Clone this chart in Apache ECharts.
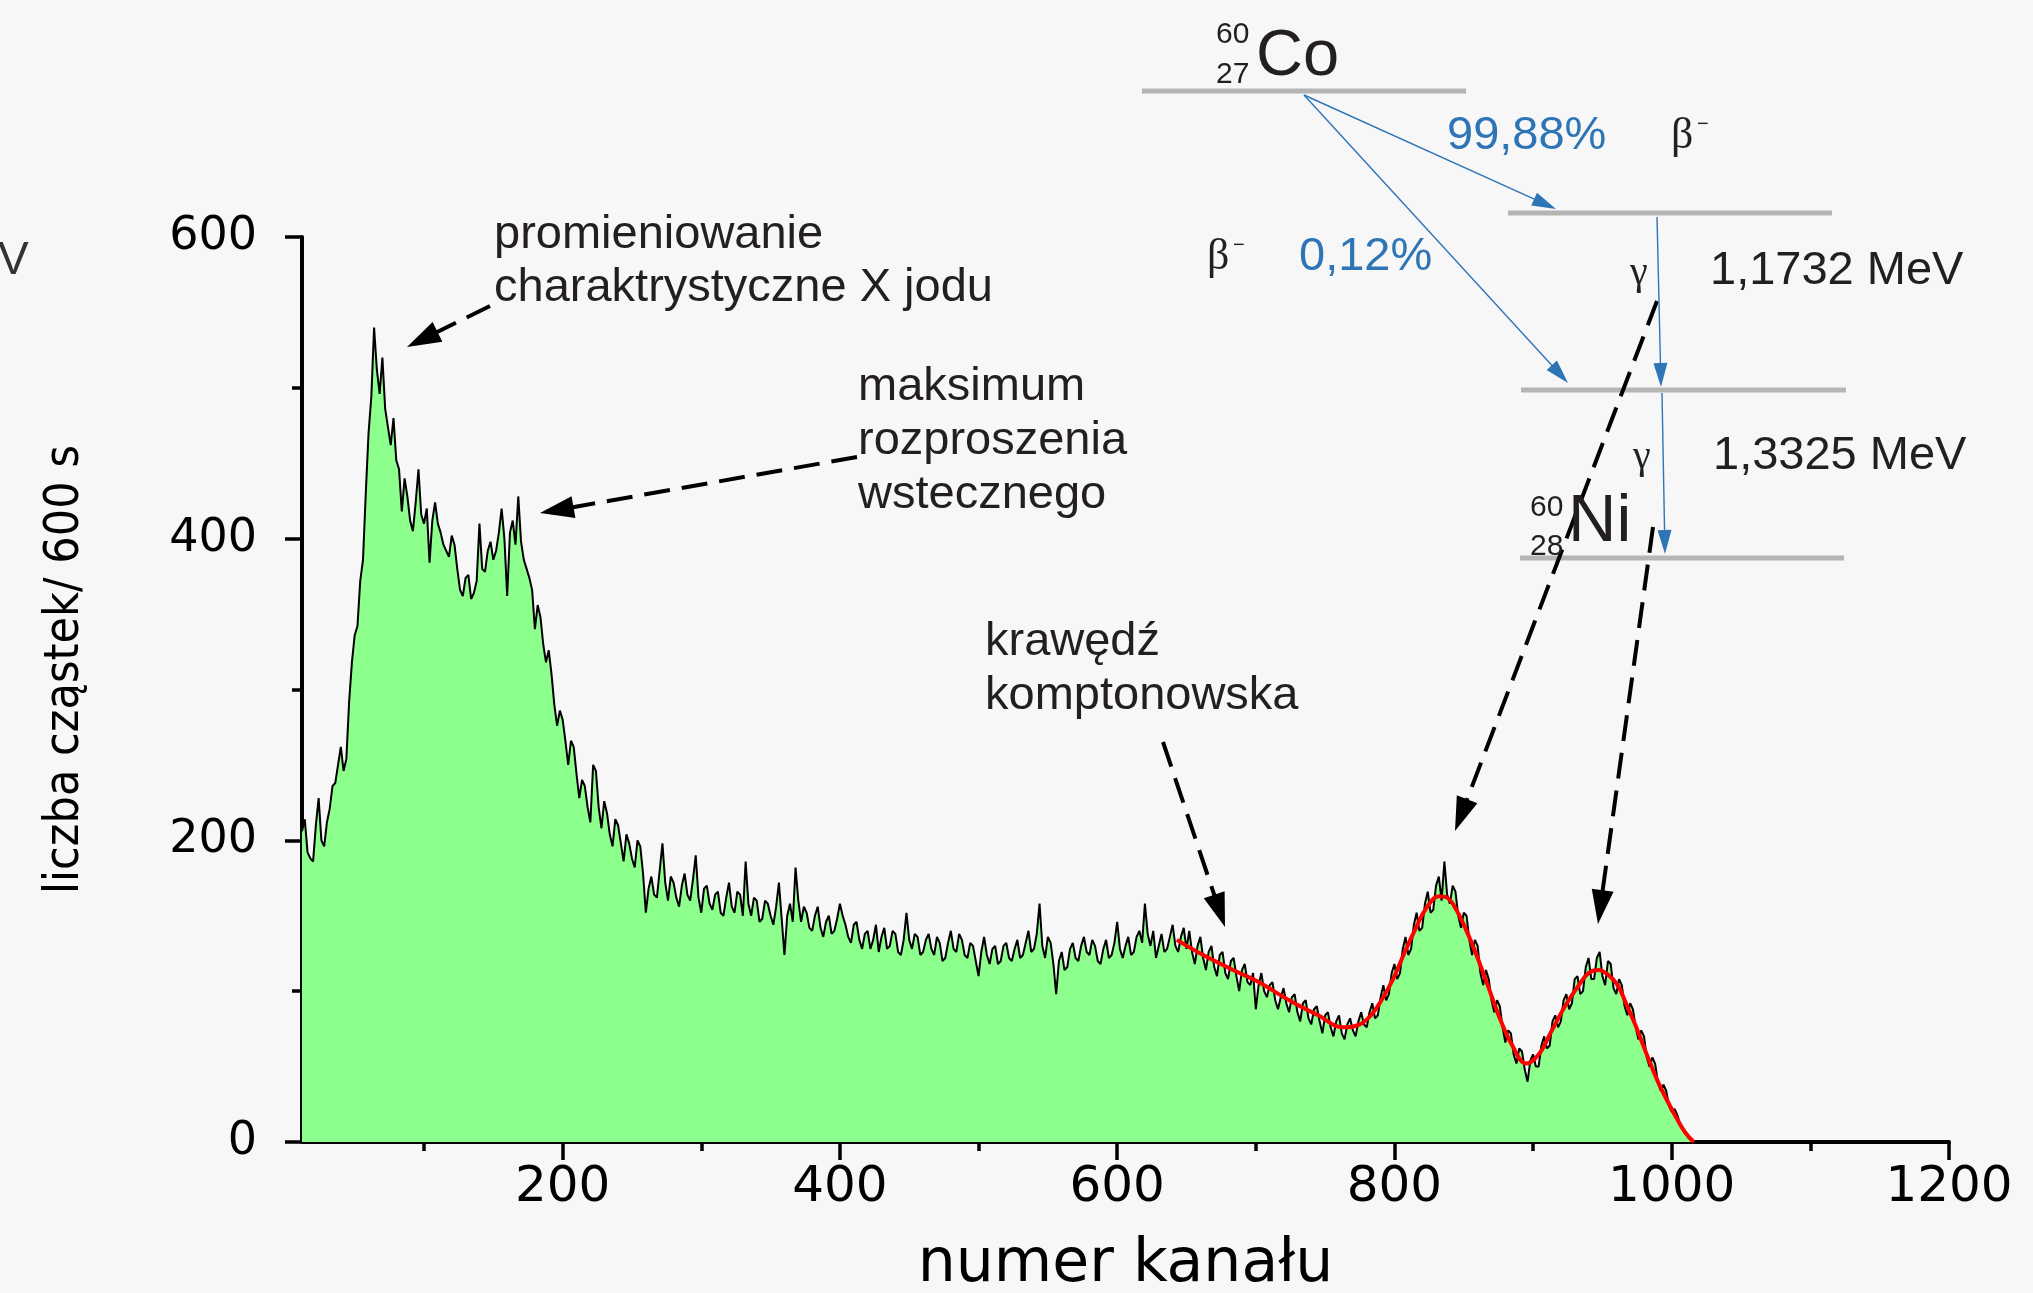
<!DOCTYPE html>
<html>
<head>
<meta charset="utf-8">
<title>Widmo 60Co</title>
<script src="https://cdn.jsdelivr.net/npm/echarts@6/dist/echarts.min.js"></script>
<style>
html, body { margin: 0; padding: 0; background: #f8f7f8; }
#main { width: 2033px; height: 1293px; }
</style>
</head>
<body>
<div id="main"></div>
<script>
// widmo: kanał startowy i krok, liczby zliczeń
const channelStart = 12;
const channelStep = 2;
const counts = [
  206, 214, 192, 188, 186, 210, 228, 200, 196, 212, 221, 236, 238, 250, 262, 246,
  254, 292, 318, 336, 342, 372, 386, 430, 470, 494, 540, 512, 496, 520, 486, 474,
  462, 480, 452, 446, 418, 440, 428, 412, 405, 424, 446, 416, 410, 420, 384, 412,
  424, 410, 404, 396, 392, 388, 402, 396, 380, 366, 362, 374, 376, 360, 364, 372,
  410, 380, 378, 392, 398, 386, 392, 404, 420, 400, 362, 404, 412, 396, 428, 398,
  386, 380, 374, 366, 340, 356, 348, 330, 318, 326, 310, 290, 276, 286, 280, 266,
  250, 266, 262, 244, 228, 240, 236, 222, 212, 250, 246, 222, 208, 226, 218, 204,
  196, 214, 210, 198, 186, 204, 198, 188, 182, 200, 196, 178, 152, 168, 176, 164,
  162, 180, 198, 172, 160, 176, 172, 162, 156, 170, 178, 164, 160, 174, 190, 162,
  152, 168, 170, 158, 154, 164, 166, 152, 150, 162, 172, 156, 152, 166, 164, 150,
  186, 158, 150, 162, 160, 146, 148, 160, 158, 150, 144, 156, 172, 148, 124, 150,
  158, 146, 182, 160, 146, 156, 152, 142, 140, 150, 156, 142, 136, 146, 150, 138,
  140, 148, 158, 150, 144, 136, 132, 144, 146, 134, 128, 138, 140, 128, 134, 144,
  126, 136, 142, 128, 130, 140, 138, 126, 124, 134, 152, 134, 128, 138, 136, 124,
  126, 134, 138, 128, 124, 136, 132, 120, 122, 132, 140, 128, 126, 138, 134, 124,
  122, 132, 130, 120, 110, 126, 136, 124, 118, 128, 130, 118, 120, 130, 132, 122,
  120, 128, 134, 122, 124, 132, 140, 126, 128, 138, 158, 130, 122, 136, 132, 118,
  98, 120, 126, 114, 116, 128, 132, 122, 120, 130, 136, 126, 124, 134, 130, 120,
  118, 128, 134, 122, 124, 132, 146, 128, 122, 130, 136, 124, 126, 136, 140, 132,
  158, 138, 130, 140, 122, 130, 138, 126, 128, 136, 144, 130, 126, 136, 142, 128,
  140, 126, 118, 130, 136, 122, 114, 126, 130, 116, 110, 124, 126, 112, 108, 120,
  122, 110, 100, 114, 118, 106, 104, 112, 88, 104, 112, 100, 96, 104, 106, 94,
  88, 96, 102, 92, 86, 96, 98, 86, 80, 92, 94, 82, 78, 88, 90, 80,
  72, 84, 86, 76, 70, 80, 84, 72, 68, 78, 82, 74, 70, 80, 86, 78,
  76, 86, 92, 82, 84, 96, 104, 94, 98, 112, 118, 108, 112, 128, 136, 124,
  128, 144, 152, 140, 142, 158, 166, 152, 154, 170, 176, 160, 186, 164, 158, 170,
  166, 150, 142, 152, 150, 134, 124, 134, 130, 112, 104, 114, 108, 94, 86, 94,
  90, 76, 66, 74, 72, 58, 52, 62, 60, 48, 40, 54, 58, 50, 50, 64,
  70, 62, 64, 80, 84, 76, 80, 94, 98, 88, 92, 108, 110, 98, 100, 116,
  122, 108, 108, 122, 126, 110, 104, 120, 118, 102, 98, 108, 104, 90, 84, 92,
  88, 76, 68, 74, 70, 56, 50, 56, 52, 40, 34, 38, 34, 24, 20, 22,
  18, 12, 8, 6, 3, 1, 0
];

// dopasowanie (czerwona linia)
const fitChannels = [643, 660, 686, 700, 726, 745, 763, 775, 783, 790, 799, 807, 815, 823, 832, 838, 844, 852, 860, 868,
  876, 885, 895, 904, 913, 923, 933, 940, 947, 954, 961, 967, 974, 982, 990, 997, 1004, 1010, 1016];
const fitCounts = [134, 125, 113, 107, 93, 84, 76, 78, 84, 93, 108, 125, 141, 155, 163, 162, 155, 140, 122, 102,
  82, 64, 52, 58, 73, 90, 104, 112, 114, 111, 104, 92, 77, 58, 40, 27, 15, 6, 0];

const xTickValues = [200, 400, 600, 800, 1000, 1200];
const xMinorTickValues = [100, 300, 500, 700, 900, 1100];

const spectrum = counts.map((c, i) => [channelStart + i * channelStep, c]);
const fit = fitChannels.map((ch, i) => [ch, fitCounts[i]]);

const SANS = '"Liberation Sans", Arial, sans-serif';
const SERIF = '"Liberation Serif", "Times New Roman", serif';
const WIDE = '"DejaVu Sans", Verdana, sans-serif';
const BLUE = '#2e75b6';
const GREY = '#b5b5b5';
const INK = '#231f20';

// tekst z podaną linią bazową
function label(text, x, baseline, size, fill, family) {
  return {
    type: 'text', x: x, y: baseline - 0.32 * size, silent: true, z: 20,
    style: {
      text: text, fill: fill || INK,
      font: size + 'px ' + (family || SANS),
      align: 'left', verticalAlign: 'middle'
    }
  };
}

// strzałka: linia + grot
function arrow(x1, y1, x2, y2, o) {
  const dx = x2 - x1, dy = y2 - y1, d = Math.hypot(dx, dy);
  const ux = dx / d, uy = dy / d;
  const bx = x2 - ux * o.head, by = y2 - uy * o.head;
  const hw = o.headW / 2;
  return [
    {
      type: 'line', silent: true, z: 19,
      shape: { x1: x1, y1: y1, x2: bx + ux * 2, y2: by + uy * 2 },
      style: { stroke: o.color, lineWidth: o.width, lineDash: o.dash || null }
    },
    {
      type: 'polygon', silent: true, z: 19,
      shape: { points: [[x2, y2], [bx - uy * hw, by + ux * hw], [bx + uy * hw, by - ux * hw]] },
      style: { fill: o.color }
    }
  ];
}

function level(x1, x2, y) {
  return {
    type: 'line', silent: true, z: 18,
    shape: { x1: x1, y1: y, x2: x2, y2: y },
    style: { stroke: GREY, lineWidth: 5 }
  };
}

const dashed = { color: '#000', width: 4, dash: [26, 12], head: 34, headW: 22 };
const thin = { color: BLUE, width: 1.4, head: 24, headW: 14 };

const graphics = [].concat(
  // opisy widma
  label('promieniowanie', 494, 250, 47),
  label('charaktrystyczne X jodu', 494, 303, 47),
  label('maksimum', 858, 402, 47),
  label('rozproszenia', 858, 456, 47),
  label('wstecznego', 858, 510, 47),
  label('krawędź', 985, 657, 47),
  label('komptonowska', 985, 711, 47),
  label('V', -2, 276, 46, '#333'),
  arrow(490, 306, 407, 347, dashed),
  arrow(857, 457, 540, 513, dashed),
  arrow(1163, 742, 1225, 927, dashed),
  arrow(1657, 301, 1455, 831, dashed),
  arrow(1653, 527, 1598, 924, dashed),
  // schemat rozpadu
  level(1142, 1466, 91),
  level(1508, 1832, 213),
  level(1521, 1846, 390),
  level(1520, 1844, 558),
  arrow(1304, 95, 1556, 209, thin),
  arrow(1304, 95, 1568, 383, thin),
  arrow(1657, 217, 1661, 387, thin),
  arrow(1662, 393, 1665, 554, thin),
  label('60', 1216, 44, 30),
  label('27', 1216, 84, 30),
  label('Co', 1256, 78, 65),
  label('99,88%', 1447, 151, 47, BLUE),
  label('β', 1671, 151, 44, INK, SERIF),
  label('−', 1697, 131, 20),
  label('β', 1207, 272, 44, INK, SERIF),
  label('−', 1233, 252, 20),
  label('0,12%', 1299, 272, 47, BLUE),
  label('γ', 1630, 286, 40, INK, SERIF),
  label('1,1732 MeV', 1710, 286, 47),
  label('γ', 1633, 470, 40, INK, SERIF),
  label('1,3325 MeV', 1713, 471, 47),
  label('60', 1530, 517, 30),
  label('28', 1530, 556, 30),
  label('Ni', 1568, 544, 67)
);

const chart = echarts.init(document.getElementById('main'));

const option = {
  backgroundColor: '#f8f7f8',
  animation: false,
  grid: { left: 302, right: 84, top: 237, bottom: 151, outerBoundsMode: 'none' },
  xAxis: [
    {
      type: 'value', min: 12, max: 1200, position: 'bottom',
      axisLine: { show: true, lineStyle: { color: '#000', width: 4 } },
      axisTick: { show: true, customValues: xTickValues, length: 18, lineStyle: { color: '#000', width: 3.5 } },
      axisLabel: {
        customValues: xTickValues, margin: 21, fontFamily: WIDE, fontSize: 50, color: '#000',
        formatter: (v) => String(v)
      },
      splitLine: { show: false },
      name: 'numer kanału', nameLocation: 'middle', nameGap: 93,
      nameTextStyle: { fontFamily: WIDE, fontSize: 60, color: '#000' }
    },
    {
      type: 'value', min: 12, max: 1200, position: 'bottom',
      axisLine: { show: false },
      axisTick: { show: true, customValues: xMinorTickValues, length: 9, lineStyle: { color: '#000', width: 3.5 } },
      axisLabel: { show: false },
      splitLine: { show: false }
    }
  ],
  yAxis: {
    type: 'value', min: 0, max: 600, interval: 200,
    axisLine: { show: true, lineStyle: { color: '#000', width: 4 } },
    axisTick: { show: true, length: 17, lineStyle: { color: '#000', width: 3.5 } },
    minorTick: { show: true, splitNumber: 2, length: 10, lineStyle: { color: '#000', width: 3.5 } },
    axisLabel: { margin: 45, fontFamily: WIDE, fontSize: 46, color: '#000' },
    splitLine: { show: false },
    minorSplitLine: { show: false },
    name: 'liczba cząstek/ 600 s', nameLocation: 'middle', nameGap: 212, nameRotate: 90,
    nameTextStyle: {
      fontFamily: '"Liberation Sans Narrow", "DejaVu Sans Condensed", "Liberation Sans"',
      fontSize: 48, color: '#000', padding: [0, 0, 0, 40]
    }
  },
  series: [
    {
      name: 'widmo', type: 'line', data: spectrum,
      symbol: 'none', sampling: null, z: 2,
      lineStyle: { color: '#000', width: 2 },
      areaStyle: { color: '#8cff8c', opacity: 1 }
    },
    {
      name: 'dopasowanie', type: 'line', data: fit,
      symbol: 'none', smooth: 0.4, z: 3,
      lineStyle: { color: '#ff0000', width: 4 }
    }
  ],
  graphic: graphics
};

chart.setOption(option);
</script>
</body>
</html>
